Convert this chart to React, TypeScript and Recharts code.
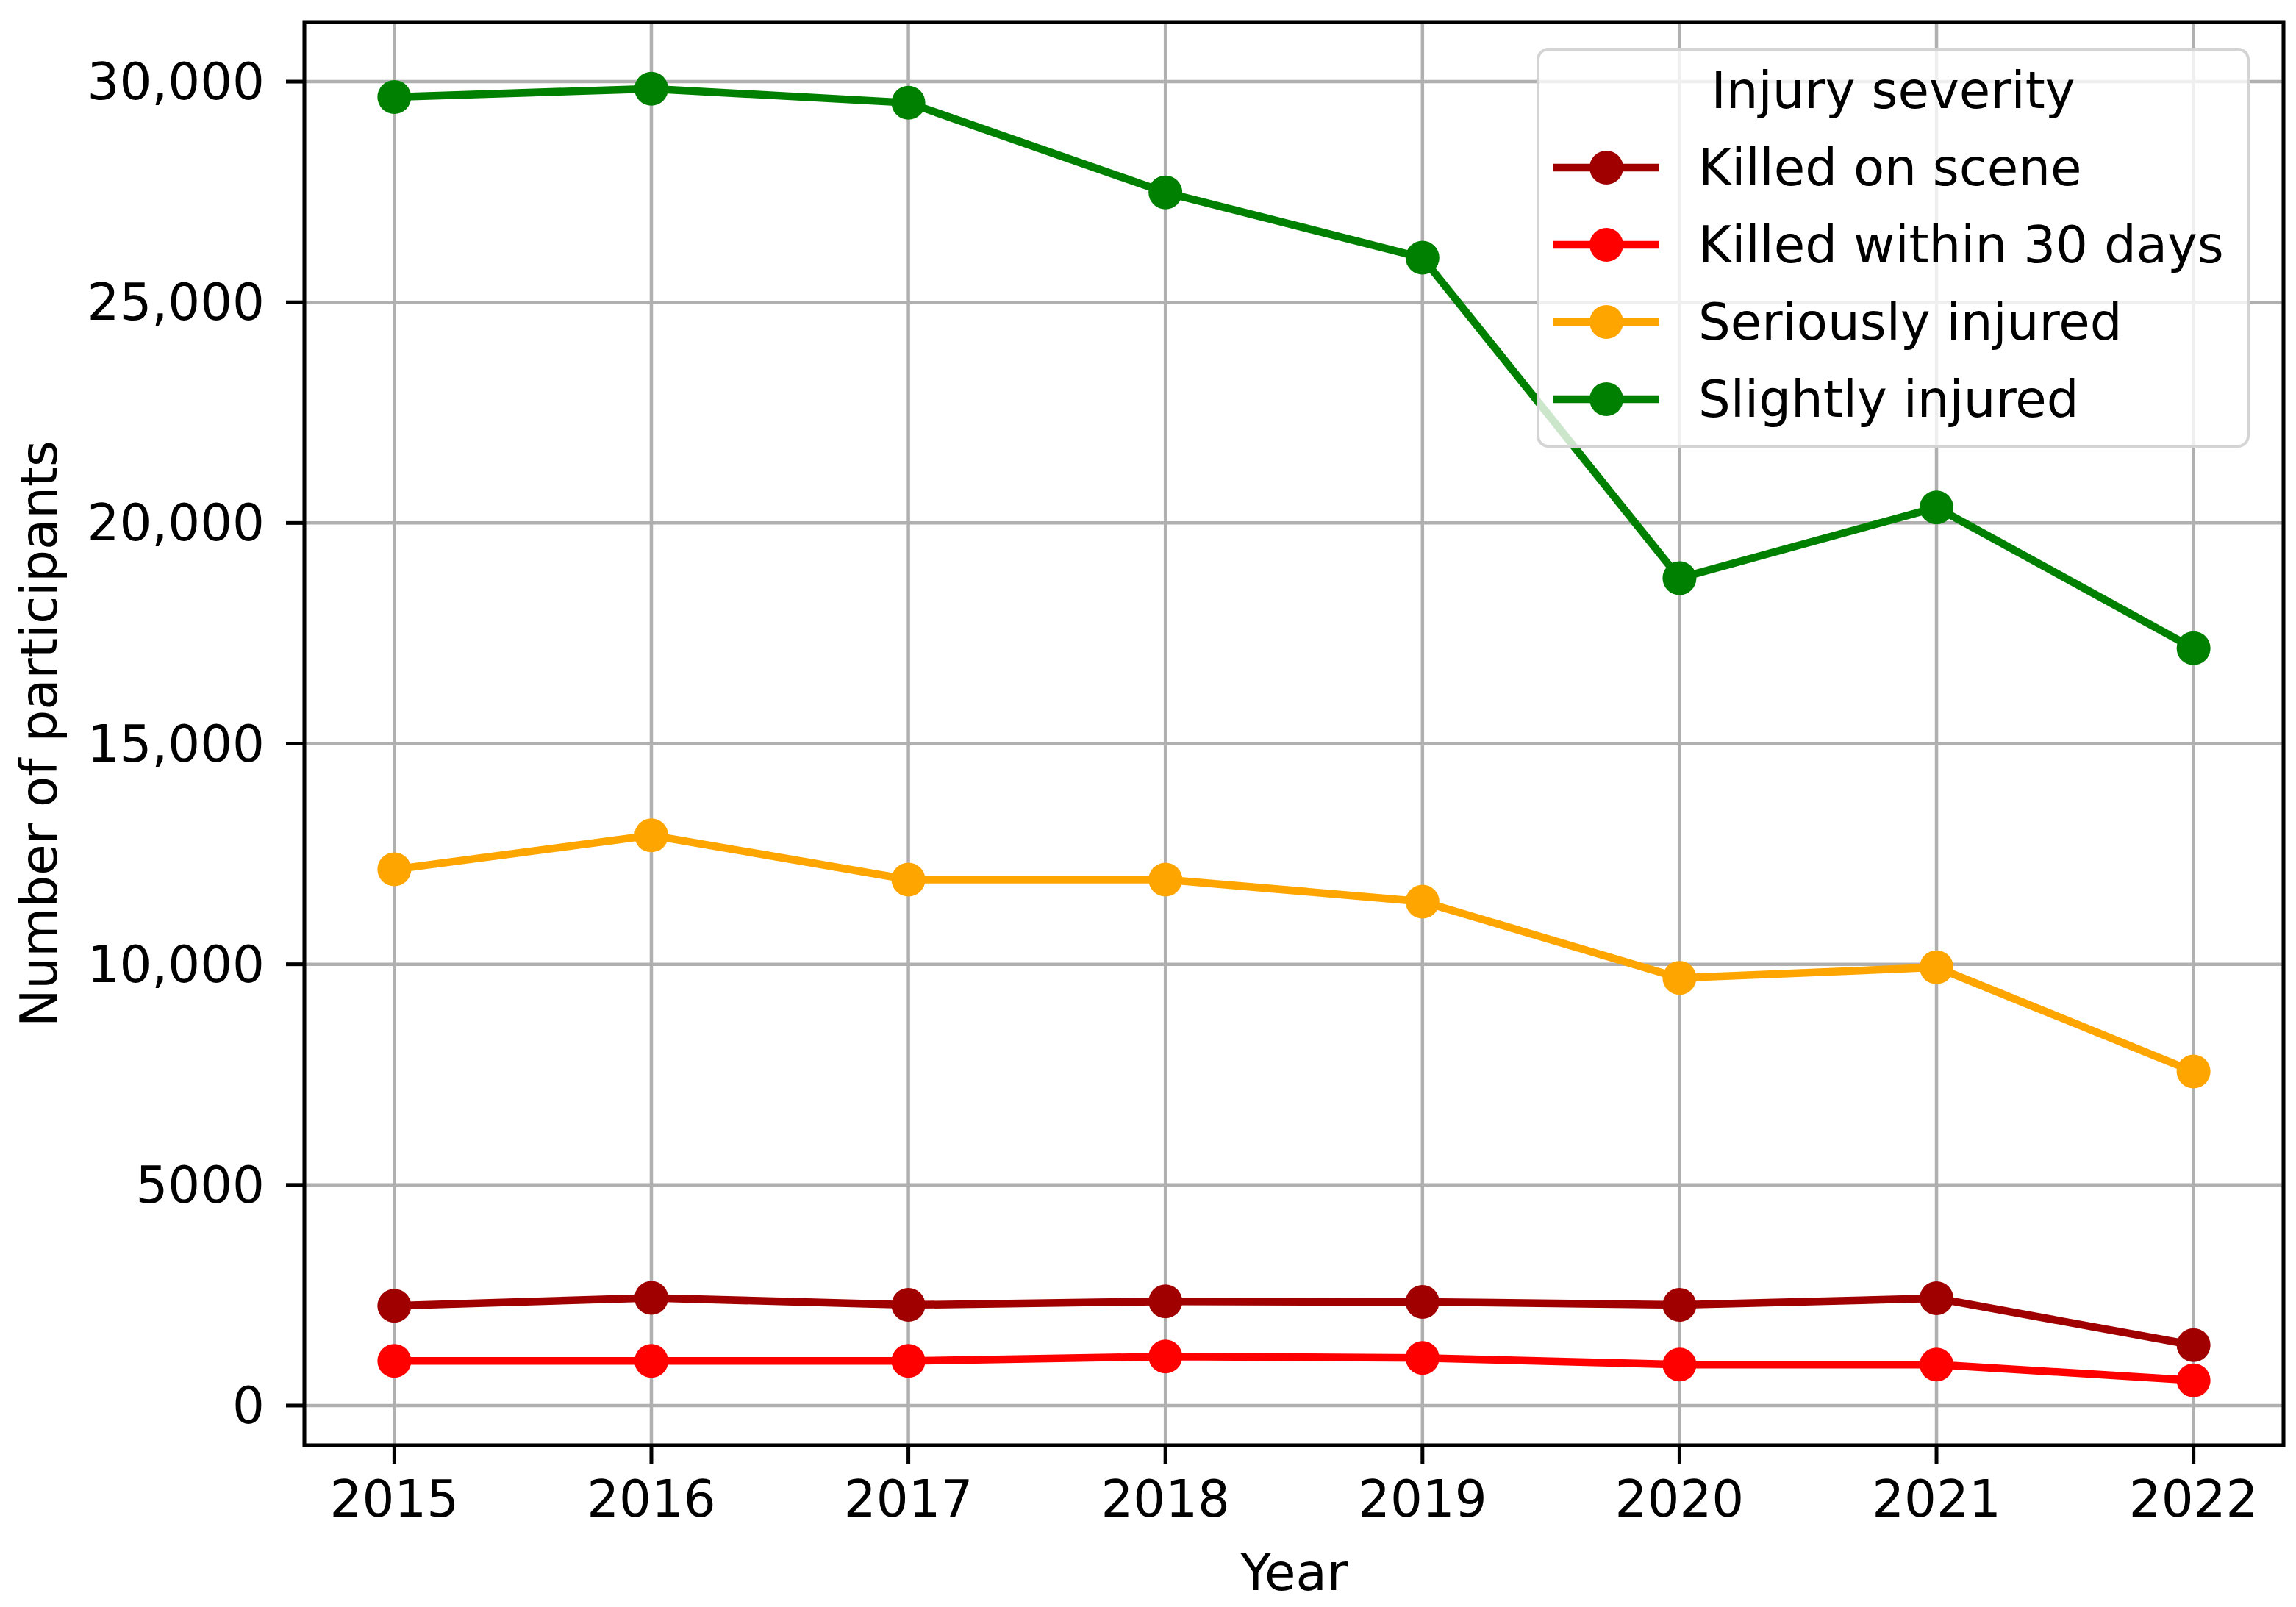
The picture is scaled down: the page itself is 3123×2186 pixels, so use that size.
import { CartesianGrid, Label, Legend, Line, LineChart, ReferenceArea, XAxis, YAxis } from "recharts";

const years = [2015, 2016, 2017, 2018, 2019, 2020, 2021, 2022];
const killedOnScene = [2260, 2440, 2280, 2360, 2350, 2280, 2430, 1370];
const killedWithin30Days = [1010, 1010, 1010, 1110, 1080, 930, 930, 570];
const seriouslyInjured = [12150, 12920, 11920, 11920, 11420, 9690, 9930, 7570];
const slightlyInjured = [29650, 29840, 29520, 27490, 26010, 18750, 20350, 17160];

const yTicks = [0, 5000, 10000, 15000, 20000, 25000, 30000];
const yTickLabels = ["0", "5000", "10,000", "15,000", "20,000", "25,000", "30,000"];

const series = [
  { key: "killedOnScene", name: "Killed on scene", color: "#a00000", values: killedOnScene },
  { key: "killedWithin30Days", name: "Killed within 30 days", color: "#ff0000", values: killedWithin30Days },
  { key: "seriouslyInjured", name: "Seriously injured", color: "#ffa500", values: seriouslyInjured },
  { key: "slightlyInjured", name: "Slightly injured", color: "#008000", values: slightlyInjured },
];

const rows = years.map((year, i) => {
  const row: Record<string, number> = { year };
  series.forEach((s) => {
    row[s.key] = s.values[i];
  });
  return row;
});

const FONT = "DejaVu Sans";
const FONT_SIZE = 69;
const X_DOMAIN: [number, number] = [2014.65, 2022.35];
const Y_DOMAIN: [number, number] = [-900, 31350];

function XTick({ x, y, payload }: any) {
  return (
    <text x={x} y={y + 72} textAnchor="middle" fontFamily={FONT} fontSize={FONT_SIZE} fill="#000">
      {payload.value}
    </text>
  );
}

function YTick({ x, y, payload }: any) {
  const idx = yTicks.indexOf(payload.value);
  return (
    <text x={x} y={y + 24} textAnchor="end" fontFamily={FONT} fontSize={FONT_SIZE} fill="#000">
      {idx >= 0 ? yTickLabels[idx] : payload.value}
    </text>
  );
}

function LegendBox() {
  return (
    <svg width={970} height={544} style={{ display: "block" }}>
      <rect
        x={2}
        y={2}
        width={966}
        height={540}
        rx={14}
        fill="#fff"
        fillOpacity={0.8}
        stroke="#d4d4d4"
        strokeWidth={4}
      />
      <text x={485} y={82} textAnchor="middle" fontFamily={FONT} fontSize={FONT_SIZE} fill="#000">
        Injury severity
      </text>
      {series.map((s, i) => (
        <g key={s.key}>
          <line x1={22} x2={167} y1={163 + i * 105} y2={163 + i * 105} stroke={s.color} strokeWidth={10.5} />
          <circle cx={95} cy={163 + i * 105} r={23} fill={s.color} />
          <text x={220} y={187 + i * 105} fontFamily={FONT} fontSize={FONT_SIZE} fill="#000">
            {s.name}
          </text>
        </g>
      ))}
    </svg>
  );
}

export default function App() {
  return (
    <div style={{ width: 3123, height: 2186, background: "#fff" }}>
      <style>{`body { margin: 0; background: #fff; }`}</style>
      <LineChart width={3123} height={2186} data={rows} margin={{ top: 30, right: 17, bottom: 0, left: 0 }}>
        <CartesianGrid stroke="#b0b0b0" strokeWidth={4.5} />
        <XAxis
          dataKey="year"
          type="number"
          domain={X_DOMAIN}
          allowDataOverflow
          ticks={years}
          height={220}
          axisLine={false}
          tickLine={{ stroke: "#000", strokeWidth: 5 }}
          tickSize={25}
          tickMargin={0}
          tick={<XTick />}
        >
          <Label
            content={() => (
              <text x={1760} y={2163} textAnchor="middle" fontFamily={FONT} fontSize={FONT_SIZE} fill="#000">
                Year
              </text>
            )}
          />
        </XAxis>
        <YAxis
          type="number"
          domain={Y_DOMAIN}
          allowDataOverflow
          ticks={yTicks}
          width={414}
          axisLine={false}
          tickLine={{ stroke: "#000", strokeWidth: 5 }}
          tickSize={25}
          tickMargin={29}
          tick={<YTick />}
        >
          <Label
            content={() => (
              <text
                x={77}
                y={998}
                transform="rotate(-90 77 998)"
                textAnchor="middle"
                fontFamily={FONT}
                fontSize={FONT_SIZE}
                fill="#000"
              >
                Number of participants
              </text>
            )}
          />
        </YAxis>
        {series.map((s) => (
          <Line
            key={s.key}
            type="linear"
            dataKey={s.key}
            name={s.name}
            stroke={s.color}
            strokeWidth={10.5}
            dot={{ r: 23, fill: s.color, stroke: s.color, strokeWidth: 0 }}
            activeDot={false}
            isAnimationActive={false}
          />
        ))}
        <ReferenceArea
          x1={X_DOMAIN[0]}
          x2={X_DOMAIN[1]}
          y1={Y_DOMAIN[0]}
          y2={Y_DOMAIN[1]}
          fill="none"
          stroke="#000"
          strokeWidth={5}
          ifOverflow="visible"
        />
        <Legend
          layout="horizontal"
          align="center"
          verticalAlign="middle"
          content={() => <LegendBox />}
          wrapperStyle={{ position: "absolute", left: 2090, top: 65, width: 970, height: 544 }}
        />
      </LineChart>
    </div>
  );
}
